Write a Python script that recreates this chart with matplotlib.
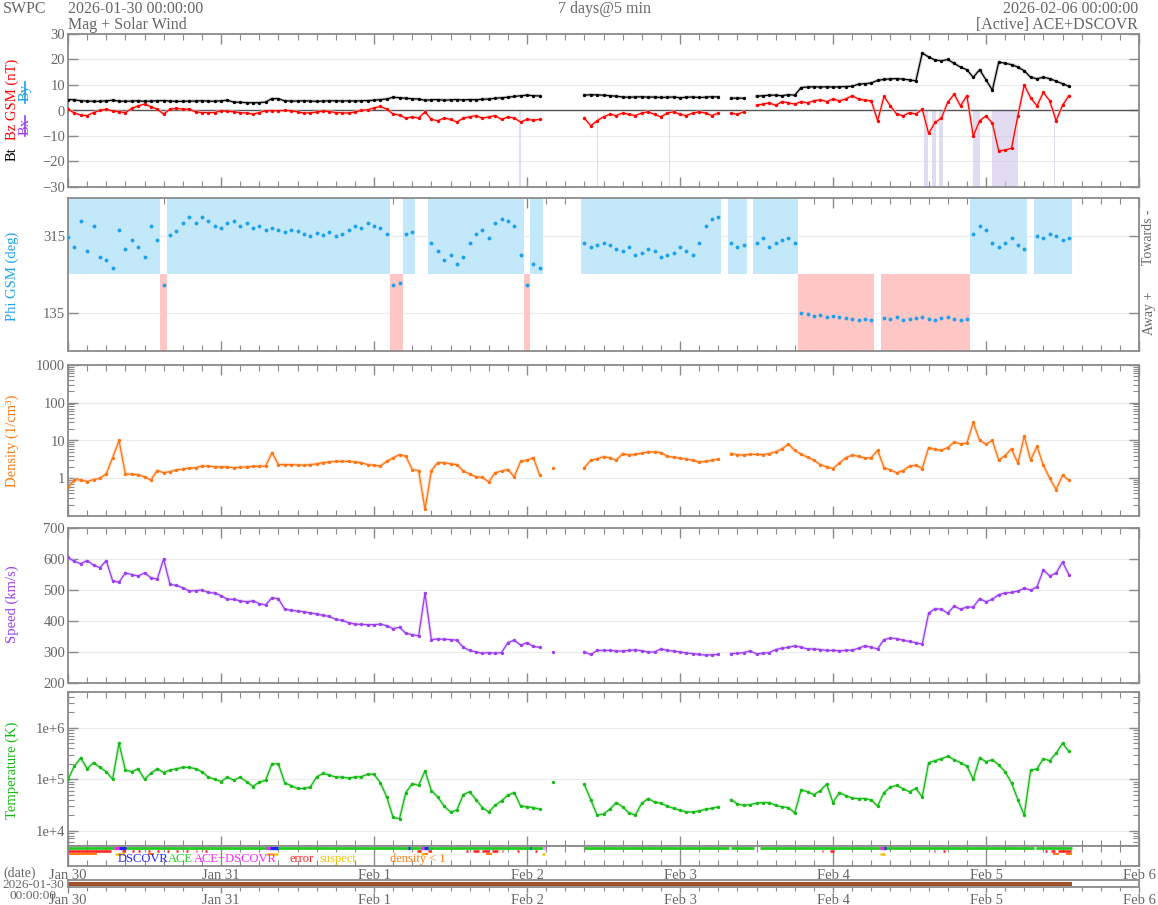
import numpy as np
import matplotlib
matplotlib.use("Agg")
import matplotlib.pyplot as plt
from matplotlib.lines import Line2D
from matplotlib.ticker import MultipleLocator, FixedLocator, LogLocator, NullFormatter

plt.rcParams['font.family'] = ['Liberation Serif', 'DejaVu Serif']
nan = float('nan')

# ---------------- data (hourly, hours after 2026-01-30 00:00 UTC) ----------------
hours = np.arange(158)

bt = [4.3, 4.2, 3.8, 3.7, 3.6, 3.6, 3.8, 4.0, 3.7, 3.6,
      3.7, 3.8, 3.6, 3.7, 3.8, 3.9, 3.7, 3.6, 3.6, 3.7,
      3.7, 3.8, 3.7, 3.6, 3.8, 4.0, 3.3, 3.2, 3.1, 3.0,
      3.1, 3.3, 4.7, 4.6, 3.8, 3.7, 3.7, 3.8, 3.7, 3.6,
      3.7, 3.8, 3.8, 3.7, 3.8, 3.7, 3.8, 3.9, 4.0, 4.3,
      4.5, 5.2, 5.0, 4.8, 4.6, 4.5, 4.0, 4.2, 4.3, 4.0,
      4.2, 4.3, 4.1, 4.3, 4.2, 4.4, 4.5, 4.8, 5.0, 5.2,
      5.5, 5.8, 6.0, 5.8, 5.7, nan, nan, nan, nan, nan,
      nan, 6.0, 6.2, 6.1, 6.0, 5.8, 5.6, 5.3, 5.2, 5.3,
      5.4, 5.2, 5.3, 5.1, 5.2, 5.3, 5.0, 5.2, 5.3, 5.1,
      5.2, 5.4, 5.3, nan, 4.8, 4.9, 4.8, nan, 5.6, 5.8,
      6.0, 6.0, 5.8, 6.2, 6.0, 9.0, 9.2, 9.3, 9.2, 9.3,
      9.2, 9.3, 9.4, 9.5, 10.3, 10.5, 10.8, 11.8, 12.2, 12.4,
      12.5, 12.3, 12.0, 11.6, 22.5, 21.0, 19.8, 19.5, 20.0, 18.5,
      17.0, 16.0, 13.0, 16.0, 12.0, 8.0, 19.0, 18.5, 18.0, 17.0,
      15.6, 13.0, 12.5, 13.0, 12.5, 11.5, 10.5, 9.5]

bz = [0.5, -1.0, -1.8, -2.0, -0.8, 0.0, 0.5, -0.2, -0.5, -0.8,
      0.8, 1.8, 2.5, 1.5, 0.5, -1.4, 0.5, 0.8, 0.5, 0.5,
      -0.5, -0.8, -0.8, -0.8, -0.1, -0.3, -0.5, -0.8, -1.0, -1.4,
      -0.8, -0.1, -0.1, -0.1, 0.0, -0.1, -0.5, -1.0, -0.9, -0.6,
      -0.2, -0.4, -0.8, -0.9, -1.0, -0.6, 0.0, 0.3, 1.0, 1.6,
      0.5, -1.4, -1.8, -3.0, -2.5, -3.0, -0.5, -3.5, -4.0, -3.0,
      -3.5, -4.5, -3.0, -2.5, -2.0, -3.0, -2.5, -2.0, -3.5, -2.5,
      -3.0, -4.5, -3.5, -3.8, -3.5, nan, nan, nan, nan, nan,
      nan, -3.0, -6.0, -4.0, -2.5, -1.5, -2.0, -1.0, -1.5, -2.0,
      -1.0, -0.5, -1.5, -2.5, -1.0, -0.5, -1.5, -2.0, -1.0, -0.5,
      -1.0, -2.0, -1.0, nan, -1.0, -1.5, -0.5, nan, 2.0, 2.5,
      3.0, 2.0, 3.5, 3.0, 2.5, 3.5, 3.0, 3.8, 4.2, 3.5,
      4.5, 3.8, 4.5, 5.8, 4.5, 4.0, 3.8, -4.0, 5.5, 1.8,
      -1.4, -2.1, -0.8, -1.4, 0.5, -9.0, -4.7, -3.0, 3.2, 6.4,
      1.8, 5.8, -10.0, -4.0, -2.1, -5.0, -15.9, -15.5, -14.8, -2.0,
      10.0, 5.0, 1.8, 7.1, 3.8, -4.0, 2.0, 5.8]

phi = [313, 290, 350, 280, 340, 265, 260, 240, 330, 285,
       305, 290, 265, 340, 305, 200, 318, 328, 345, 360,
       345, 360, 350, 340, 335, 345, 350, 340, 345, 335,
       338, 330, 335, 330, 325, 330, 328, 320, 315, 322,
       318, 325, 315, 320, 330, 340, 335, 345, 340, 335,
       320, 200, 205, 320, 325, nan, nan, 300, 280, 260,
       270, 250, 265, 300, 320, 330, 310, 345, 355, 350,
       340, 270, 200, 250, 240, nan, nan, nan, nan, nan,
       nan, 300, 290, 295, 300, 295, 285, 280, 290, 270,
       275, 285, 280, 265, 270, 275, 290, 280, 270, 300,
       340, 355, 360, nan, 300, 290, 295, nan, 300, 310,
       290, 300, 305, 310, 300, 135, 132, 128, 130, 125,
       128, 125, 122, 120, 118, 120, 118, nan, 122, 120,
       125, 118, 120, 122, 125, 120, 118, 122, 125, 120,
       118, 120, 320, 340, 330, 300, 290, 300, 310, 295,
       285, nan, 315, 310, 320, 315, 305, 310]

density = [0.57, 0.92, 0.9, 0.82, 0.92, 1.0, 1.3, 3.5, 10.0, 1.3,
           1.28, 1.25, 1.08, 0.9, 1.6, 1.4, 1.5, 1.65, 1.75, 1.85,
           1.9, 2.1, 2.1, 2.0, 2.0, 2.0, 1.9, 1.95, 2.0, 2.05,
           2.1, 2.1, 4.8, 2.3, 2.3, 2.3, 2.25, 2.2, 2.3, 2.4,
           2.6, 2.7, 2.8, 2.8, 2.8, 2.7, 2.6, 2.3, 2.2, 2.1,
           2.8, 3.5, 4.2, 3.8, 1.7, 1.6, 0.15, 1.6, 2.6, 2.6,
           2.4, 2.3, 1.55, 1.3, 1.1, 1.05, 0.8, 1.4, 1.55, 1.7,
           1.1, 2.8, 3.0, 3.5, 1.2, nan, 1.9, nan, nan, nan,
           nan, 1.9, 3.0, 3.3, 3.7, 3.5, 3.0, 4.5, 4.1, 4.3,
           4.6, 5.0, 5.0, 4.8, 3.8, 3.6, 3.4, 3.2, 3.0, 2.7,
           2.8, 3.0, 3.2, nan, 4.5, 4.2, 4.1, 4.3, 4.3, 4.2,
           4.5, 5.0, 6.0, 8.0, 5.5, 4.3, 3.6, 3.0, 2.3, 2.0,
           1.8, 2.5, 3.5, 4.1, 3.8, 3.4, 3.5, 5.5, 1.9, 1.65,
           1.4, 1.6, 2.1, 2.2, 1.8, 6.5, 5.8, 5.5, 6.5, 9.0,
           8.2, 8.5, 30.0, 10.0, 8.0, 10.0, 3.0, 4.0, 6.0, 2.5,
           13.0, 3.0, 7.0, 2.2, 1.0, 0.5, 1.2, 0.9]

speed = [605, 592, 585, 595, 580, 572, 595, 530, 525, 555,
         550, 545, 555, 540, 535, 600, 518, 515, 507, 497,
         498, 500, 492, 490, 482, 470, 470, 465, 462, 465,
         456, 452, 475, 472, 438, 435, 432, 430, 426, 423,
         418, 415, 405, 402, 395, 390, 389, 388, 388, 390,
         385, 375, 380, 360, 356, 352, 490, 340, 342, 341,
         340, 338, 315, 305, 300, 296, 298, 296, 298, 330,
         338, 322, 330, 318, 315, nan, 300, nan, nan, nan,
         nan, 300, 292, 305, 305, 305, 303, 303, 305, 307,
         304, 300, 300, 310, 305, 303, 300, 297, 295, 292,
         290, 291, 292, nan, 295, 296, 298, 303, 294, 296,
         298, 308, 312, 315, 320, 315, 310, 310, 308, 305,
         305, 304, 305, 306, 312, 320, 315, 310, 340, 345,
         343, 338, 334, 330, 325, 425, 440, 438, 425, 448,
         438, 445, 445, 472, 462, 470, 485, 490, 492, 497,
         505, 500, 510, 565, 545, 555, 590, 550]

temperature = [1.0e5, 1.8e5, 2.6e5, 1.6e5, 2.1e5, 1.7e5, 1.4e5, 1.0e5, 5.0e5, 1.5e5,
               1.4e5, 1.6e5, 1.0e5, 1.3e5, 1.6e5, 1.35e5, 1.5e5, 1.6e5, 1.7e5, 1.7e5,
               1.6e5, 1.4e5, 1.1e5, 1.0e5, 0.9e5, 1.1e5, 0.95e5, 1.1e5, 0.9e5, 0.72e5,
               0.88e5, 0.95e5, 2.0e5, 2.0e5, 0.85e5, 0.75e5, 0.66e5, 0.66e5, 0.7e5, 1.1e5,
               1.3e5, 1.2e5, 1.1e5, 1.1e5, 1.05e5, 1.1e5, 1.12e5, 1.25e5, 1.25e5, 0.85e5,
               0.45e5, 1.8e4, 1.7e4, 5.5e4, 8.2e4, 7.6e4, 1.45e5, 6.0e4, 4.5e4, 3.0e4,
               2.3e4, 2.5e4, 5.0e4, 5.7e4, 4.0e4, 2.8e4, 2.3e4, 3.1e4, 3.8e4, 4.9e4,
               5.5e4, 3.0e4, 2.9e4, 2.8e4, 2.6e4, nan, 9.0e4, nan, nan, nan,
               nan, 7.9e4, 4.0e4, 2.0e4, 2.1e4, 2.6e4, 3.5e4, 2.9e4, 2.2e4, 2.0e4,
               3.4e4, 4.2e4, 3.6e4, 3.4e4, 3.0e4, 2.7e4, 2.5e4, 2.3e4, 2.3e4, 2.4e4,
               2.6e4, 2.7e4, 2.9e4, nan, 4.0e4, 3.3e4, 3.1e4, 3.2e4, 3.4e4, 3.5e4,
               3.5e4, 3.1e4, 2.9e4, 2.8e4, 2.2e4, 6.2e4, 5.7e4, 5.0e4, 6.0e4, 8.0e4,
               3.5e4, 5.5e4, 4.8e4, 4.3e4, 4.2e4, 4.2e4, 3.9e4, 3.0e4, 5.5e4, 7.0e4,
               7.6e4, 6.5e4, 5.7e4, 6.6e4, 4.5e4, 2.1e5, 2.3e5, 2.5e5, 2.8e5, 2.4e5,
               2.1e5, 1.8e5, 1.0e5, 2.6e5, 2.2e5, 2.4e5, 1.9e5, 1.4e5, 8.5e4, 4.0e4,
               2.0e4, 1.5e5, 1.6e5, 2.5e5, 2.3e5, 3.2e5, 5.0e5, 3.5e5]

day_hours = [0, 24, 48, 72, 96, 120, 144, 168]
day_labels = ['Jan 30', 'Jan 31', 'Feb 1', 'Feb 2', 'Feb 3', 'Feb 4', 'Feb 5', 'Feb 6']

# southward-Bz highlight intervals (hours)
bz_south_start = [70.8, 83.0, 94.3, 134.3, 135.5, 136.6, 142.0, 145.0, 154.6]
bz_south_end = [71.1, 83.2, 94.5, 134.9, 136.1, 137.2, 143.0, 149.0, 154.8]

# status bar intervals (hours)
ace_start = [0, 81, 104, 108.5, 151.9]
ace_end = [74.5, 103.7, 107.6, 151.5, 157.5]
blend_start = [7.2, 31.0, 55.4, 74.6, 127.4]
blend_end = [8.0, 31.7, 55.9, 74.9, 128.0]
dscovr_start = [8.0, 31.7, 53.4, 55.9, 72.4, 128.0]
dscovr_end = [9.1, 33.0, 53.7, 56.5, 72.7, 128.3]
error_start = [0, 8.5, 10, 11, 12.5, 14, 15.5, 17, 18.5, 20, 21.5, 54.8, 56.5, 62.5,
               63.5, 65, 66.5, 68, 70.5, 73.3, 118.3, 119.5, 135.8, 137.3, 153.3, 154.2, 155.3]
error_end = [6.8, 9, 10.3, 11.3, 12.8, 14.3, 15.8, 17.3, 18.8, 20.3, 21.8, 55.3, 57, 62.8,
             64.5, 66, 67.5, 68.3, 70.8, 73.6, 118.5, 120.2, 136.0, 137.5, 153.6, 154.8, 157.4]
suspect_start = [7.3, 31.0, 55.3, 74.4, 127.4]
suspect_end = [9.0, 33.0, 55.8, 74.8, 128.2]

# ---------------- layout ----------------
W, H = 1158, 905
fig = plt.figure(figsize=(W / 100, H / 100), dpi=100)
L, R = 68, 1139


def add_ax(top, bottom):
    return fig.add_axes([L / W, 1 - bottom / H, (R - L) / W, (bottom - top) / H])


ax1 = add_ax(34, 187)
ax2 = add_ax(198, 351)
ax3 = add_ax(365, 516)
ax4 = add_ax(528, 683)
ax5 = add_ax(692, 846)
ax6 = add_ax(846, 866)
ax7 = add_ax(880, 887)

GRAY = '#666666'
FRAME = '#8a8a8a'
GRID = '#ebebeb'


def style(ax, labels=False):
    ax.set_xlim(0, 168)
    ax.xaxis.set_major_locator(FixedLocator(day_hours))
    ax.xaxis.set_minor_locator(MultipleLocator(3))
    ax.tick_params(axis='both', which='both', direction='in', top=True, right=True,
                   color=FRAME, labelcolor=GRAY, labelsize=10.5, pad=2)
    ax.tick_params(which='major', length=7, width=1)
    ax.tick_params(which='minor', length=4, width=0.8)
    for s in ax.spines.values():
        s.set_color(FRAME)
        s.set_linewidth(1.3)
    if labels:
        ax.set_xticklabels(day_labels)
    else:
        ax.set_xticklabels([])
    ax.set_axisbelow(True)


def series(ax, x, y, dark, light, ms=2.4):
    ax.plot(x, y, color=light, lw=2.4, zorder=2, alpha=0.6)
    ax.plot(x, y, color=dark, lw=0.9, zorder=3)
    ax.plot(x, y, 'o', color=dark, ms=ms, mew=0, zorder=4)


# --- panel 1: Bt / Bz
style(ax1)
ax1.set_ylim(-30, 30)
ax1.yaxis.set_major_locator(MultipleLocator(10))
ax1.grid(axis='y', color=GRID, lw=0.8)
for s, e in zip(bz_south_start, bz_south_end):
    ax1.axvspan(s, e, ymin=0, ymax=0.5, color='#cfc5ea', alpha=0.6, lw=0, zorder=1)
ax1.axhline(0, color='#555555', lw=1, zorder=2)
series(ax1, hours, bz, '#ff0000', '#ffc0c0')
series(ax1, hours, bt, '#000000', '#b0b0b0')

# --- panel 2: Phi
style(ax2)
ax2.set_ylim(45, 405)
ax2.set_yticks([135, 315])
ax2.grid(axis='y', color=GRID, lw=0.8)
phi_arr = np.array(phi, dtype=float)
ok = ~np.isnan(phi_arr)
toward = ok & (phi_arr >= 225)
away = ok & (phi_arr < 225)
ax2.bar(hours[toward], 180, bottom=225, width=1.0, color='#c3e8fa', lw=0, zorder=1)
ax2.bar(hours[away], 180, bottom=45, width=1.0, color='#ffc6c6', lw=0, zorder=1)
ax2.plot(hours, phi, 'o', color='#1ea2ee', ms=2.8, mew=0, zorder=4)

# --- panel 3: Density
style(ax3)
ax3.set_yscale('log')
ax3.set_ylim(0.1, 1000)
ax3.yaxis.set_major_locator(FixedLocator([1, 10, 100, 1000]))
ax3.set_yticklabels(['1', '10', '100', '1000'])
ax3.yaxis.set_minor_locator(LogLocator(base=10, subs=np.arange(2, 10)))
ax3.yaxis.set_minor_formatter(NullFormatter())
ax3.grid(axis='y', which='major', color=GRID, lw=0.8)
series(ax3, hours, density, '#ff7410', '#ffc8a0')

# --- panel 4: Speed
style(ax4)
ax4.set_ylim(200, 700)
ax4.yaxis.set_major_locator(MultipleLocator(100))
ax4.grid(axis='y', color=GRID, lw=0.8)
series(ax4, hours, speed, '#9b3cf2', '#dcc4fa')

# --- panel 5: Temperature
style(ax5)
ax5.set_yscale('log')
ax5.set_ylim(5e3, 5e6)
ax5.yaxis.set_major_locator(FixedLocator([1e4, 1e5, 1e6]))
ax5.set_yticklabels(['1e+4', '1e+5', '1e+6'])
ax5.yaxis.set_minor_locator(LogLocator(base=10, subs=np.arange(2, 10)))
ax5.yaxis.set_minor_formatter(NullFormatter())
ax5.grid(axis='y', which='major', color=GRID, lw=0.8)
series(ax5, hours, temperature, '#12bb12', '#aee8ae')

# --- panel 6: status bar
style(ax6, labels=True)
ax6.set_ylim(0, 1)
ax6.set_yticks([])
for s, e in zip(ace_start, ace_end):
    ax6.plot([s, e], [0.88, 0.88], color='#22cc22', lw=2.0, solid_capstyle='butt')
for s, e in zip(blend_start, blend_end):
    ax6.plot([s, e], [0.88, 0.88], color='#ff22ff', lw=2.4, solid_capstyle='butt')
for s, e in zip(dscovr_start, dscovr_end):
    ax6.plot([s, e], [0.88, 0.88], color='#2222ff', lw=2.4, solid_capstyle='butt')
for s, e in zip(error_start, error_end):
    ax6.plot([s, e], [0.73, 0.73], color='#ff2020', lw=1.8, solid_capstyle='butt')
for s, e in zip(suspect_start, suspect_end):
    ax6.plot([s, e], [0.62, 0.62], color='#f5c400', lw=1.8, solid_capstyle='butt')
dens_arr = np.array(density, dtype=float)
low = dens_arr < 1
ax6.bar(hours[low], 0.1, bottom=0.55, width=1.0, color='#ff7a10', lw=0)
leg_x = [7.8, 15.6, 19.8, 34.7, 39.4, 50.5]
leg_t = ['DSCOVR', 'ACE', 'ACE+DSCOVR', 'error', 'suspect', 'density < 1']
leg_c = ['#2222ff', '#22cc22', '#ff22ff', '#ff2020', '#f5c400', '#ff7a10']
for x, t, c in zip(leg_x, leg_t, leg_c):
    ax6.text(x, 0.36, t, color=c, fontsize=9, va='center', ha='left')

# --- panel 7: date bar
style(ax7, labels=True)
ax7.set_ylim(0, 1)
ax7.set_yticks([])
ax7.tick_params(axis='x', which='both', top=False, direction='out', pad=1)
ax7.tick_params(which='major', length=4)
ax7.tick_params(which='minor', length=3)
ax7.plot([0, 157.5], [0.5, 0.5], color='#a0522d', lw=3, solid_capstyle='butt')

# ---------------- text ----------------
def ftext(x, y, s, **kw):
    fig.text(x / W, 1 - y / H, s, **kw)


hdr = dict(color=GRAY, fontsize=11.5, va='center')
ftext(3, 9, 'SWPC', ha='left', **hdr)
ftext(68, 9, '2026-01-30 00:00:00', ha='left', **hdr)
ftext(68, 25, 'Mag + Solar Wind', ha='left', **hdr)
ftext(604, 9, '7 days@5 min', ha='center', **hdr)
ftext(1138, 9, '2026-02-06 00:00:00', ha='right', **hdr)
ftext(1138, 25, '[Active] ACE+DSCOVR', ha='right', **hdr)

yl = dict(rotation=90, fontsize=10.5, ha='center', va='center')
ftext(12, 154, 'Bt', color='black', **yl)
ftext(12, 99, 'Bz GSM (nT)', color='#ff0000', **yl)
ftext(25, 126, 'Bx', color='#9b3cf2', **yl)
ftext(25, 92, 'By', color='#1ea2ee', **yl)
fig.add_artist(Line2D([25.5 / W, 25.5 / W], [1 - 136 / H, 1 - 116 / H], color='#9b3cf2', lw=1.2))
fig.add_artist(Line2D([25.5 / W, 25.5 / W], [1 - 103 / H, 1 - 82 / H], color='#1ea2ee', lw=1.2))
ftext(12, 276, 'Phi GSM (deg)', color='#1ea2ee', **yl)
ftext(12, 441, 'Density (1/cm³)', color='#ff7a10', **yl)
ftext(12, 604, 'Speed (km/s)', color='#9b3cf2', **yl)
ftext(12, 770, 'Temperature (K)', color='#12bb12', **yl)

ftext(1149, 237, 'Towards -', color=GRAY, rotation=90, fontsize=10, ha='center', va='center')
ftext(1149, 313, 'Away +', color=GRAY, rotation=90, fontsize=10, ha='center', va='center')

ftext(3, 873, '(date)', color=GRAY, fontsize=10, ha='left', va='center')
ftext(2, 885, '2026-01-30', color=GRAY, fontsize=9.5, ha='left', va='center')
ftext(10, 896, '00:00:00', color=GRAY, fontsize=9.5, ha='left', va='center')

fig.savefig('out.png', dpi=100, facecolor='white')
